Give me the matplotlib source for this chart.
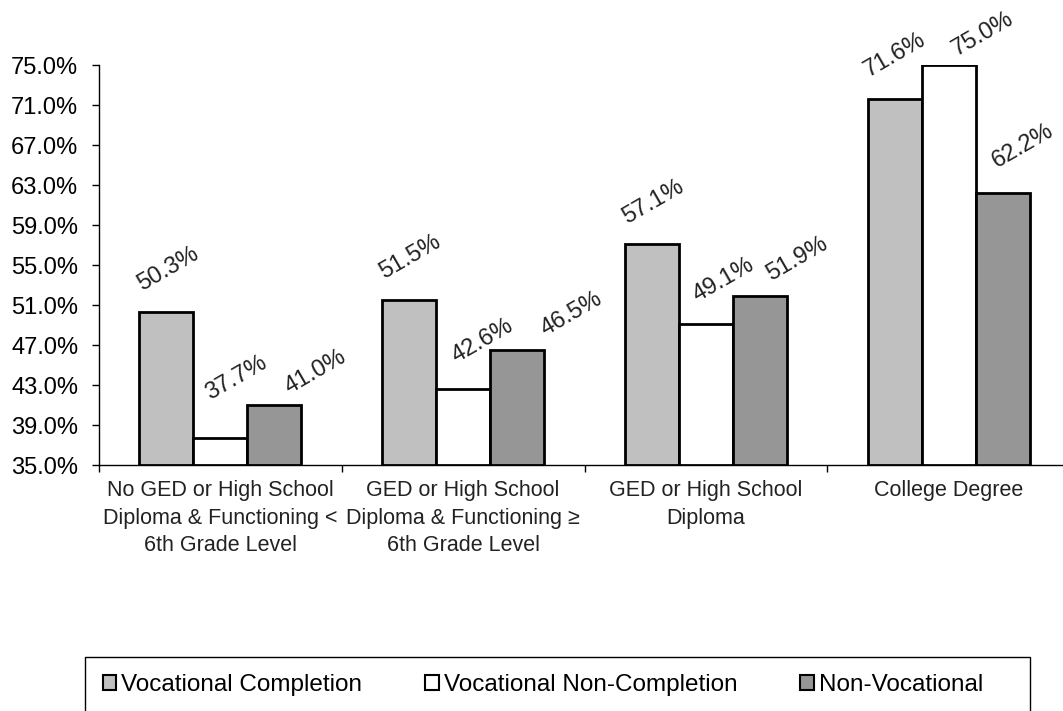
import matplotlib
matplotlib.use("Agg")
import matplotlib.pyplot as plt
from matplotlib.patches import Patch, Rectangle
import numpy as np

plt.rcParams['font.family'] = ['Liberation Sans', 'DejaVu Sans']

# ---- data ----
categories = [
    "No GED or High School\nDiploma & Functioning <\n6th Grade Level",
    "GED or High School\nDiploma & Functioning \u2265\n6th Grade Level",
    "GED or High School\nDiploma",
    "College Degree",
]
series_names = ["Vocational Completion", "Vocational Non-Completion", "Non-Vocational"]
voc_completion = [50.3, 51.5, 57.1, 71.6]
voc_non_completion = [37.7, 42.6, 49.1, 75.0]
non_vocational = [41.0, 46.5, 51.9, 62.2]
y_ticks = [35.0, 39.0, 43.0, 47.0, 51.0, 55.0, 59.0, 63.0, 67.0, 71.0, 75.0]

series_values = [voc_completion, voc_non_completion, non_vocational]
colors = ["#C0C0C0", "#FFFFFF", "#969696"]

# label offsets in pixels (layout only)
label_offsets = [
    [(2, 43), (1, 43), (1, 42), (0, 44)],
    [(16, 60), (19, 48), (18, 44), (34, 31)],
    [(41, 33), (54, 36), (37, 37), (20, 47)],
]

W, H = 1063, 711
fig = plt.figure(figsize=(W / 100, H / 100), dpi=100)
ax = fig.add_axes([99 / W, (H - 465) / H, (1070 - 99) / W, 400 / H])

x = np.arange(len(categories))
bw = 0.2225
for i, (vals, col) in enumerate(zip(series_values, colors)):
    pos = x + (i - 1) * bw
    ax.bar(pos, np.array(vals) - 35.0, bottom=35.0, width=bw, color=col,
           edgecolor="black", linewidth=2.0, zorder=3)
    for j, (p, v) in enumerate(zip(pos, vals)):
        dx, dy = label_offsets[i][j]
        ax.annotate(f"{v:.1f}%", xy=(p, v), xytext=(dx, dy),
                    textcoords="offset pixels", rotation=30,
                    ha="center", va="center", fontsize=17, color="#222222",
                    annotation_clip=False)

ax.set_xlim(-0.5, 3.5)
ax.set_ylim(35, 75)
ax.set_yticks(y_ticks)
ax.set_yticklabels([f"{t:.1f}%" for t in y_ticks], fontsize=17)
ax.tick_params(axis="y", direction="out", length=5, width=1, pad=10)

ax.set_xticks(np.arange(-0.5, 4.0, 1.0))
ax.set_xticklabels([])
ax.tick_params(axis="x", which="major", direction="out", length=5, width=1)
ax.set_xticks(x, minor=True)
ax.set_xticklabels(categories, minor=True, fontsize=15.5, linespacing=1.4,
                   color="#222222")
ax.tick_params(axis="x", which="minor", length=0, pad=11)

for s in ["top", "right"]:
    ax.spines[s].set_visible(False)
ax.spines["left"].set_linewidth(1)
ax.spines["bottom"].set_linewidth(1)

# legend
handles = [Patch(facecolor=c, edgecolor="black", linewidth=1.5) for c in colors]
fig.add_artist(Rectangle((85 / W, -0.02), (1030 - 85) / W, (H - 657) / H + 0.02,
                         transform=fig.transFigure, facecolor="none",
                         edgecolor="black", linewidth=1.0))
fig.legend(handles, series_names, loc="center left",
           bbox_to_anchor=(103 / W, (H - 685) / H), ncol=3, frameon=False,
           fontsize=17.5, handlelength=0.55, handleheight=0.55,
           handletextpad=0.2, columnspacing=2.6, borderpad=0, borderaxespad=0)

fig.savefig("out.png", dpi=100)
